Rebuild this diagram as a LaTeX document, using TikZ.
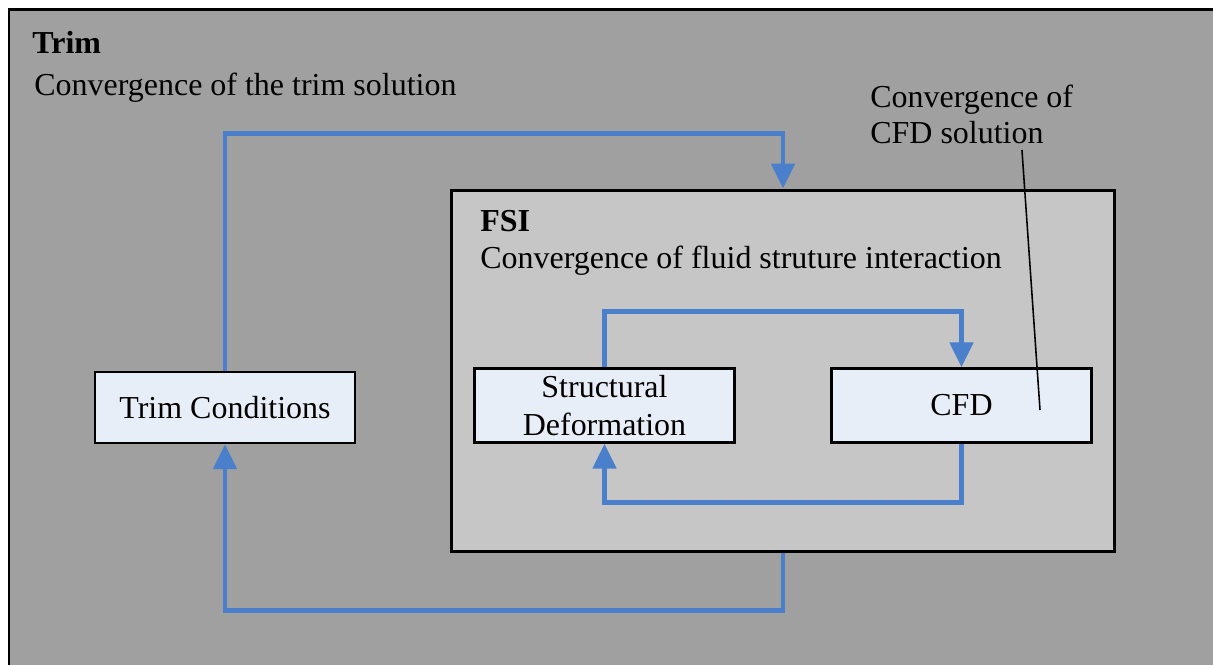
\documentclass[tikz,border=0pt]{standalone}
\usepackage{fontspec}
\setmainfont{Liberation Serif}
\usetikzlibrary{arrows.meta, positioning, calc}
\definecolor{trimgray}{HTML}{A0A0A0}
\definecolor{fsigray}{HTML}{C6C6C6}
\definecolor{blockfill}{HTML}{E8EEF8}
\definecolor{flowblue}{HTML}{4A7FCC}

\begin{document}
\begin{tikzpicture}[x=0.02cm, y=-0.02cm,
    font=\fontsize{18.2}{21.5}\selectfont,
    block/.style={draw, line width=1.4pt, fill=blockfill, minimum width=5.2cm, minimum height=1.48cm, align=center, inner sep=0pt},
    flow/.style={draw=flowblue, line width=2.8pt, -{Triangle[width=0.46cm, length=0.5cm]}},
    label/.style={anchor=base west, inner sep=0pt}]
        % Canvas
        \clip (0,0) rectangle (1213,664);
        \fill[white] (0,0) rectangle (1213,664);

        % Trim loop frame
        \draw[line width=1.7pt, fill=trimgray] (9,9) rectangle (1240,690);
        \node[label, font=\fontsize{18.2}{21.5}\selectfont\bfseries] (trimtitle) at (32,53) {Trim};
        \node[label] (trimtext) at (34,95) {Convergence of the trim solution};

        % FSI loop frame
        \node[draw, line width=1.7pt, fill=fsigray, minimum width=13.28cm, minimum height=7.24cm, inner sep=0pt] (fsi) at (783,371) {};
        \node[label, font=\fontsize{18.2}{21.5}\selectfont\bfseries] (fsititle) at (480,231) {FSI};
        \node[label] (fsitext) at (480,268) {Convergence of fluid struture interaction};

        % Blocks
        \node[block, minimum height=1.42cm] (trim) at (225,407.5) {Trim Conditions};
        \node[block, text width=5cm] (struct) at (604.5,405.5) {Structural\\Deformation};
        \node[block] (cfd) at (961.5,405.5) {CFD};

        % CFD note
        \node[label] (cfdnote1) at (870,107) {Convergence of};
        \node[label] (cfdnote2) at (870,143) {CFD solution};
        \coordinate (cfdpt) at (1040,410);
        \draw[line width=0.9pt] ($(cfdnote2.base east)+(-22,7)$) -- (cfdpt);

        % Outer loop
        \draw[flow] (trim.north) |- ($(fsi.north)+(0,-55)$) -- (fsi.north);
        \draw[flow] (fsi.south) -- ($(fsi.south)+(0,57)$) -| (trim.south);

        % Inner loop
        \draw[flow] (struct.north) |- ($(cfd.north)+(0,-56)$) -- (cfd.north);
        \draw[flow] (cfd.south) -- ($(cfd.south)+(0,59)$) -| (struct.south);
    \end{tikzpicture}
\end{document}
